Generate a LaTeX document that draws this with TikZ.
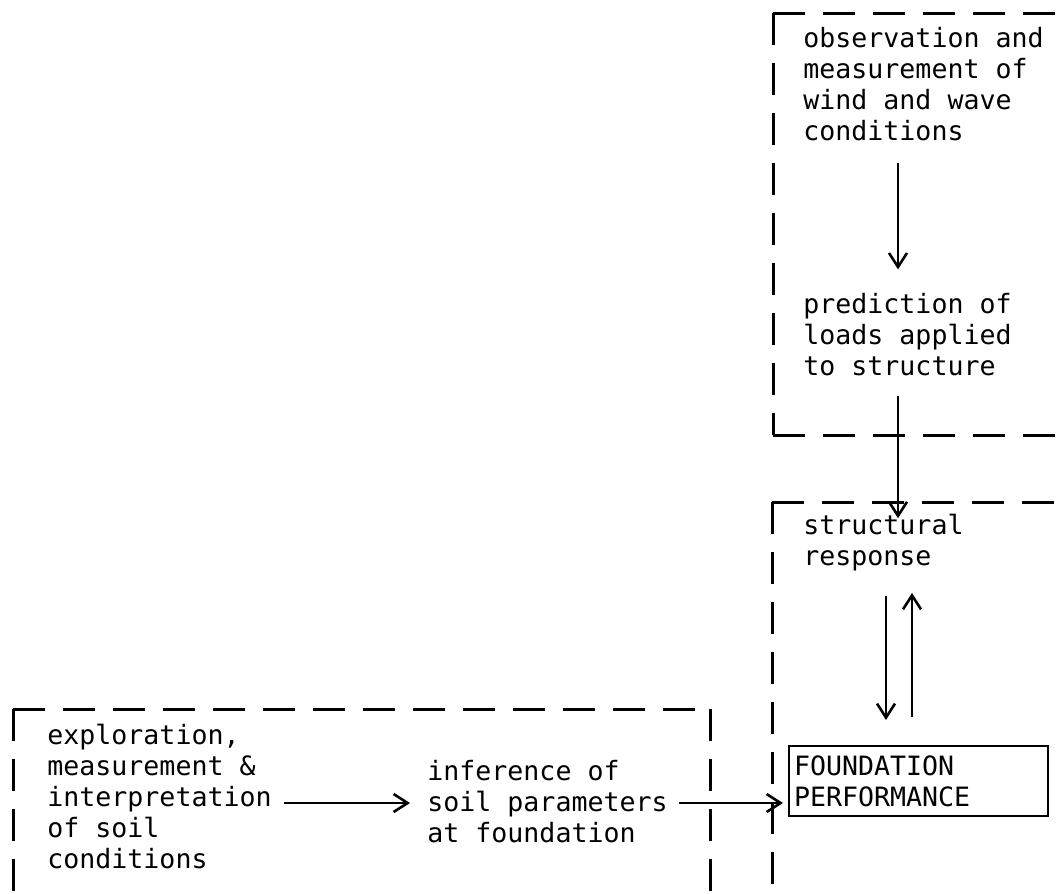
\documentclass[tikz,border=0pt]{standalone}
\usepackage{fontspec}
\setmonofont{DejaVu Sans Mono}
\usetikzlibrary{arrows.meta}
\begin{document}
\begin{tikzpicture}[x=0.5pt,y=-0.5pt,>={Straight Barb[length=7pt,width=9pt,line width=1.3pt]},
    every node/.style={font=\ttfamily\fontsize{13.3}{15.5}\selectfont,inner sep=0pt,align=left,anchor=base west},
    frame/.style={line width=1.5pt,dash pattern=on 16pt off 9pt},
    link/.style={->,line width=1.1pt}]
  \useasboundingbox (0,0) rectangle (1056,894);
  % dashed groups, drawn out of their corners
  \draw[frame] (773,13) -- (1056,13) (773,13) -- (773,435) (773,435) -- (1056,435);
  \draw[frame] (772,502) -- (1056,502) (772,502) -- (772,894);
  \draw[frame] (13,709) -- (13,894) (13,709) -- (710,709) (710,709) -- (710,894);
  % texts (placed at their last baseline)
  \node (obs) at (803,140) {observation and\\measurement of\\wind and wave\\conditions};
  \node (pred) at (803,375) {prediction of\\loads applied\\to structure};
  \node (resp) at (803,565) {structural\\response};
  \node (expl) at (47,868) {exploration,\\measurement \&\\interpretation\\of soil\\conditions};
  \node (infer) at (427,842) {inference of\\soil parameters\\at foundation};
  \node[draw,line width=1pt,anchor=north west,minimum width=129.5pt,minimum height=35pt,
        text width=124.5pt,inner xsep=2.5pt] (found) at (788,745) {FOUNDATION\\PERFORMANCE};
  \coordinate (mid) at (898,0);
  \coordinate (dn) at (886,0);
  \coordinate (up) at (912,0);
  \coordinate (lev) at (0,803);
  % connectors
  \draw[link,shorten <=11pt,shorten >=11.5pt] (obs.south -| mid) -- (pred.north -| mid);
  \draw[link,shorten <=10pt,shorten >=-2.5pt] (pred.south -| mid) -- (resp.north -| mid);
  \draw[link,shorten <=12.5pt,shorten >=12.5pt] (resp.south -| dn) -- (found.north -| dn);
  \draw[link,shorten <=14pt,shorten >=11pt] (found.north -| up) -- (resp.south -| up);
  \draw[link,shorten <=6pt,shorten >=8.5pt] (expl.east |- lev) -- (infer.west |- lev);
  \draw[link,shorten <=5.5pt,shorten >=2.5pt] (infer.east |- lev) -- (found.west |- lev);
\end{tikzpicture}
\end{document}
